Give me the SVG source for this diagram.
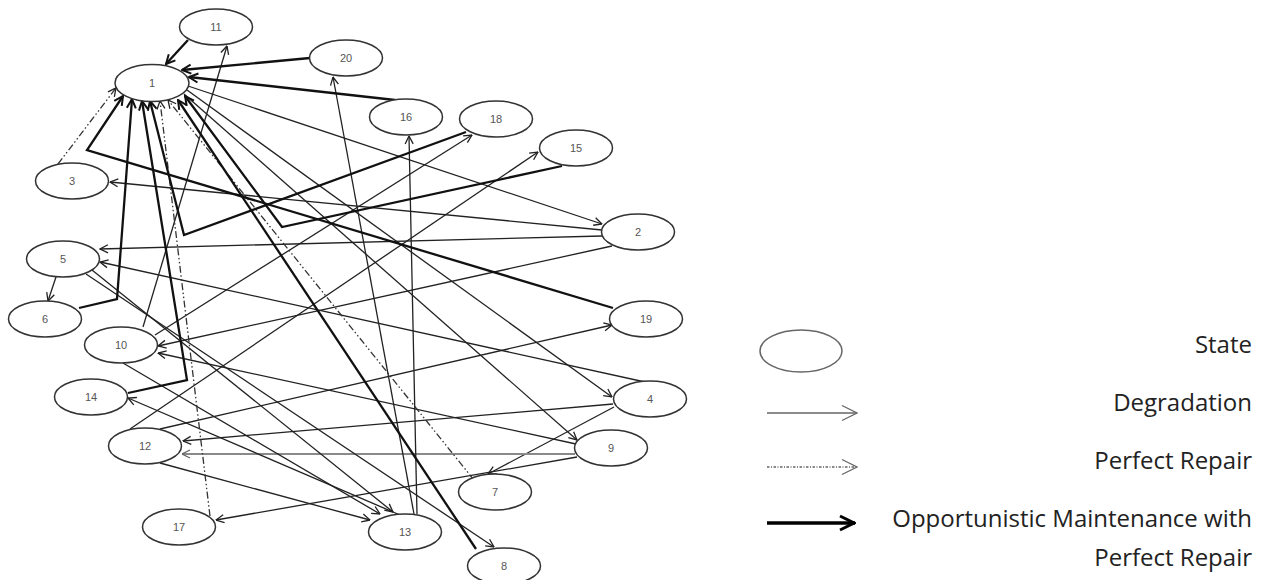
<svg xmlns="http://www.w3.org/2000/svg" width="1271" height="580" viewBox="0 0 1271 580">
<style>
.node ellipse{fill:#fff;stroke:#333;stroke-width:1.5}
.node text{font-family:"Liberation Sans",Arial,sans-serif;font-size:11px;fill:#555;text-anchor:middle}
.deg{fill:none;stroke:#222;stroke-width:1.3;marker-end:url(#ah)}
.gray{fill:none;stroke:#8a8a8a;stroke-width:1.8;marker-end:url(#ahg)}
.rep{fill:none;stroke:#333;stroke-width:1.3;stroke-dasharray:7 2.5 1.5 2.5 1.5 2.5;marker-end:url(#ah)}
.opp{fill:none;stroke:#111;stroke-width:2.3;stroke-linejoin:miter;marker-end:url(#ahb)}
.lg{font-family:"Open Sans","Noto Sans",sans-serif;font-size:24px;fill:#222;text-anchor:end}
</style>
<defs>
<marker id="ah" viewBox="0 0 10 10" refX="9.5" refY="5" markerWidth="10" markerHeight="10" markerUnits="userSpaceOnUse" orient="auto"><path d="M1.5,1 L9.5,5 L1.5,9" fill="none" stroke="#222" stroke-width="1.3"/></marker>
<marker id="ahg" viewBox="0 0 10 10" refX="9.5" refY="5" markerWidth="10" markerHeight="10" markerUnits="userSpaceOnUse" orient="auto"><path d="M1.5,1 L9.5,5 L1.5,9" fill="none" stroke="#666" stroke-width="1.3"/></marker>
<marker id="ahb" viewBox="0 0 12 12" refX="11" refY="6" markerWidth="12" markerHeight="12" markerUnits="userSpaceOnUse" orient="auto"><path d="M2,1.5 L11,6 L2,10.5" fill="none" stroke="#111" stroke-width="2"/></marker>
<marker id="lgA" viewBox="0 0 18 18" refX="17" refY="9" markerWidth="18" markerHeight="18" markerUnits="userSpaceOnUse" orient="auto"><path d="M2,1.5 L17,9 L2,16.5" fill="none" stroke="#666" stroke-width="1.3"/></marker>
<marker id="lgB" viewBox="0 0 18 18" refX="17" refY="9" markerWidth="18" markerHeight="18" markerUnits="userSpaceOnUse" orient="auto"><path d="M2,2 L16,9 L2,16" fill="none" stroke="#000" stroke-width="3"/></marker>
</defs>
<g id="connectors">
<path class="deg" d="M188,86 L602,224"/>
<path class="deg" d="M187,90 L612,397"/>
<path class="deg" d="M184,94 L577,440"/>
<path class="deg" d="M602,230 L110,182"/>
<path class="deg" d="M602,236 L100,249"/>
<path class="deg" d="M612,246 L158,346"/>
<path class="deg" d="M645,382 L100,262"/>
<path class="deg" d="M614,407 L488,474"/>
<path class="deg" d="M613,404 L183,441"/>
<path class="deg" d="M576,444 L158,353"/>
<path class="gray" d="M575,454 L182,454"/>
<path class="deg" d="M577,457 L216,520"/>
<path class="deg" d="M56,277 L48,301"/>
<path class="deg" d="M92,270 L393,512"/>
<path class="deg" d="M86,274 L494,547"/>
<path class="deg" d="M143,327 L227,46"/>
<path class="deg" d="M123,363 L380,514"/>
<path class="deg" d="M155,335 L472,135"/>
<path class="deg" d="M160,463 L370,520"/>
<path class="deg" d="M130,429 L538,152"/>
<path class="deg" d="M160,429 L612,325"/>
<path class="deg" d="M400,515 L128,398"/>
<path class="deg" d="M417,514 L409,136"/>
<path class="deg" d="M414,514 L333,77"/>
<path class="rep" d="M58,164 L116,88"/>
<path class="rep" d="M474,480 L168,100"/>
<path class="rep" d="M210,516 L160,101"/>
<path class="opp" d="M188,40 L166,64"/>
<path class="opp" d="M310,58 L182,70"/>
<path class="opp" d="M395,100 L189,77"/>
<path class="opp" d="M476,549 L178,100"/>
<path class="opp" d="M79,308 L117,299 L132,99"/>
<path class="opp" d="M128,393 L187,380 L142,101"/>
<path class="opp" d="M466,132 L184,235 L150,101"/>
<path class="opp" d="M562,166 L282,227 L185,96"/>
<path class="opp" d="M613,308 L87,150 L123,96"/>
</g>
<g id="n1" class="node"><ellipse cx="152" cy="83" rx="37" ry="18.5"/><text x="152" y="87">1</text></g>
<g id="n2" class="node"><ellipse cx="638" cy="232" rx="36.5" ry="18"/><text x="638" y="236">2</text></g>
<g id="n3" class="node"><ellipse cx="72" cy="181" rx="36.5" ry="18"/><text x="72" y="185">3</text></g>
<g id="n4" class="node"><ellipse cx="650" cy="399" rx="36.5" ry="18"/><text x="650" y="403">4</text></g>
<g id="n5" class="node"><ellipse cx="63" cy="259" rx="36.5" ry="18"/><text x="63" y="263">5</text></g>
<g id="n6" class="node"><ellipse cx="45" cy="319" rx="36.5" ry="18"/><text x="45" y="323">6</text></g>
<g id="n7" class="node"><ellipse cx="495" cy="492" rx="36.5" ry="18"/><text x="495" y="496">7</text></g>
<g id="n8" class="node"><ellipse cx="504" cy="566" rx="36.5" ry="18"/><text x="504" y="570">8</text></g>
<g id="n9" class="node"><ellipse cx="611" cy="448" rx="36.5" ry="18"/><text x="611" y="452">9</text></g>
<g id="n10" class="node"><ellipse cx="121" cy="345" rx="36.5" ry="18"/><text x="121" y="349">10</text></g>
<g id="n11" class="node"><ellipse cx="216" cy="27" rx="36.5" ry="18"/><text x="216" y="31">11</text></g>
<g id="n12" class="node"><ellipse cx="145" cy="446" rx="36.5" ry="18"/><text x="145" y="450">12</text></g>
<g id="n13" class="node"><ellipse cx="405" cy="532" rx="36.5" ry="18"/><text x="405" y="536">13</text></g>
<g id="n14" class="node"><ellipse cx="91" cy="397" rx="36.5" ry="18"/><text x="91" y="401">14</text></g>
<g id="n15" class="node"><ellipse cx="576" cy="148" rx="36.5" ry="18"/><text x="576" y="152">15</text></g>
<g id="n16" class="node"><ellipse cx="406" cy="117" rx="36.5" ry="18"/><text x="406" y="121">16</text></g>
<g id="n17" class="node"><ellipse cx="179" cy="527" rx="36.5" ry="18"/><text x="179" y="531">17</text></g>
<g id="n18" class="node"><ellipse cx="496" cy="119" rx="36.5" ry="18"/><text x="496" y="123">18</text></g>
<g id="n19" class="node"><ellipse cx="646" cy="319" rx="36.5" ry="18"/><text x="646" y="323">19</text></g>
<g id="n20" class="node"><ellipse cx="346" cy="58" rx="36.5" ry="18"/><text x="346" y="62">20</text></g>
<g id="legend">
<ellipse cx="801" cy="351" rx="41" ry="21" fill="#fff" stroke="#666" stroke-width="1.5"/>
<path d="M767,413 L857,413" fill="none" stroke="#666" stroke-width="1.3" marker-end="url(#lgA)"/>
<path d="M767,467 L857,467" fill="none" stroke="#666" stroke-width="1.3" stroke-dasharray="2.5 1.5 1 1.5" marker-end="url(#lgA)"/>
<path d="M767,523 L855,523" fill="none" stroke="#000" stroke-width="3.5" marker-end="url(#lgB)"/>
<text class="lg" x="1252" y="353">State</text>
<text class="lg" x="1252" y="411">Degradation</text>
<text class="lg" x="1252" y="469">Perfect Repair</text>
<text class="lg" x="1252" y="527">Opportunistic Maintenance with</text>
<text class="lg" x="1252" y="566">Perfect Repair</text>
</g>
</svg>
